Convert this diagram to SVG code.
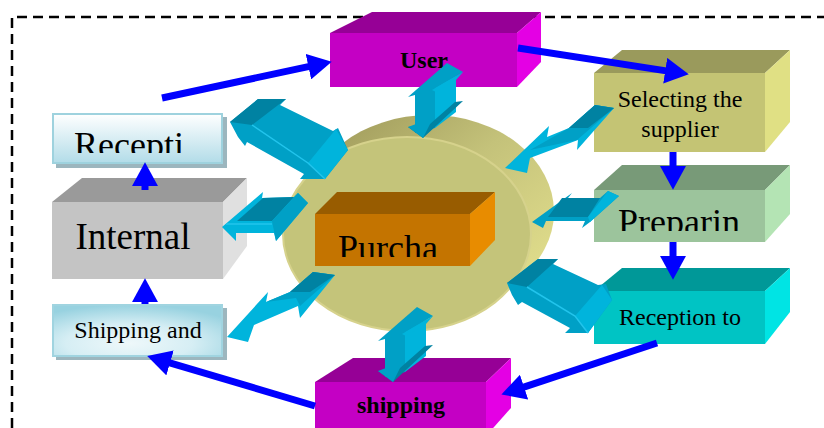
<svg xmlns="http://www.w3.org/2000/svg" width="824" height="428" viewBox="0 0 824 428">
  <defs>
    <style>
      .lbl { font-family: "Liberation Serif", "Times New Roman", serif; fill: #000; text-anchor: middle; }
      .sm { font-size: 24px; }
      .big { font-size: 36px; }
      .bold { font-weight: bold; }
      .flow { stroke: #0000FF; stroke-width: 7; fill: none; marker-end: url(#head); }
      .cy-main { fill: #00A0C6; }
      .cy-dark { fill: #0082A2; }
      .cy-light { fill: #00B4DC; }
      .cy-edge { stroke: #22C4EC; stroke-width: 1.5; fill: none; }
    </style>
    <marker id="head" markerUnits="userSpaceOnUse" markerWidth="24" markerHeight="26" viewBox="0 -12 22 24" refX="1" refY="0" orient="auto">
      <path d="M0,-12 L22,0 L0,12 z" fill="#0000FF"/>
    </marker>
    <linearGradient id="drum" x1="0" y1="0" x2="1" y2="1">
      <stop offset="0" stop-color="#9A9456"/>
      <stop offset="0.45" stop-color="#C4C27A"/>
      <stop offset="1" stop-color="#E8E490"/>
    </linearGradient>
    <linearGradient id="paleTop" x1="0" y1="0" x2="0" y2="1">
      <stop offset="0" stop-color="#FFFFFF"/>
      <stop offset="1" stop-color="#B2DCE8"/>
    </linearGradient>
    <radialGradient id="paleRad" cx="0.45" cy="0.75" r="0.75">
      <stop offset="0" stop-color="#EEF8FA"/>
      <stop offset="0.5" stop-color="#D6EEF4"/>
      <stop offset="1" stop-color="#98D2E0"/>
    </radialGradient>
    <clipPath id="clipRecepti"><rect x="52" y="113" width="172" height="40"/></clipPath>
    <clipPath id="clipPurcha"><rect x="315" y="214" width="156" height="43"/></clipPath>
    <clipPath id="clipPreparin"><rect x="594" y="190" width="172" height="41"/></clipPath>
    <!-- vertical double block arrow (used twice) -->
    <g id="vArrow">
      <polygon class="cy-main" points="415,94 435,86 435,128 415,133"/>
      <polygon class="cy-light" points="435,86 456,76 456,112 435,128"/>
      <polygon class="cy-main" points="408,97 447,63 463,72 432,90"/>
      <polygon class="cy-light" points="432,90 463,72 456,80 436,92"/>
      <polygon class="cy-dark" points="408,127 423,138 463,101 455,102 430,124"/>
      <polygon class="cy-main" points="408,127 416,124 430,124 423,138"/>
    </g>
  </defs>

  <!-- dashed frame -->
  <path d="M12,428 V17 H824" fill="none" stroke="#000" stroke-width="2.5" stroke-dasharray="10 6"/>

  <!-- central drum -->
  <g id="drumShape">
    <ellipse cx="430" cy="212" rx="124" ry="97" fill="url(#drum)"/>
    <polygon points="311,173 334,151 526,273 503,295" fill="#C4C27A"/>
    <ellipse cx="407" cy="234" rx="124" ry="97" fill="#C4C47A" stroke="#D6D28C" stroke-width="2"/>
  </g>

  <g id="purchasing">
    <polygon points="315,214 337,192 495,192 470,214" fill="#985C00"/>
    <polygon points="470,214 495,192 495,240 470,266" fill="#E88C00"/>
    <rect x="315" y="214" width="155" height="52" fill="#C47400"/>
    <text class="lbl big" x="388" y="260" clip-path="url(#clipPurcha)">Purcha</text>
  </g>

  <g id="user">
    <polygon points="330,33 372,12 541,12 517,33" fill="#960096"/>
    <polygon points="517,33 541,12 541,62 517,87" fill="#E400E4"/>
    <rect x="330" y="33" width="187" height="54" fill="#C400C4"/>
    <text class="lbl sm bold" x="424" y="68">User</text>
  </g>

  <g id="selecting">
    <polygon points="594,73 622,50 790,50 765,73" fill="#9A9A5C"/>
    <polygon points="765,73 790,50 790,122 765,152" fill="#E0E084"/>
    <rect x="594" y="73" width="171" height="79" fill="#C4C474"/>
    <text class="lbl sm" x="680" y="107">Selecting the</text>
    <text class="lbl sm" x="680" y="137">supplier</text>
  </g>

  <g id="preparing">
    <polygon points="594,190 622,165 790,165 765,190" fill="#789A78"/>
    <polygon points="765,190 790,165 790,214 765,242" fill="#B4E4B4"/>
    <rect x="594" y="190" width="171" height="52" fill="#9CC49C"/>
    <text class="lbl big" x="679" y="234" clip-path="url(#clipPreparin)">Preparin</text>
  </g>

  <g id="reception">
    <polygon points="594,291 622,268 790,268 765,291" fill="#009898"/>
    <polygon points="765,291 790,268 790,312 765,344" fill="#00E4E4"/>
    <rect x="594" y="291" width="171" height="53" fill="#00C4C4"/>
    <text class="lbl sm" x="680" y="325">Reception to</text>
  </g>

  <g id="shipping">
    <polygon points="315,382 353,358 511,358 486,382" fill="#960096"/>
    <polygon points="486,382 511,358 511,408 486,436" fill="#E400E4"/>
    <rect x="315" y="382" width="171" height="50" fill="#C400C4"/>
    <text class="lbl sm bold" x="401" y="413">shipping</text>
  </g>

  <g id="internal">
    <polygon points="52,202 82,178 247,178 223,202" fill="#9A9A9A"/>
    <polygon points="223,202 247,178 247,246 223,279" fill="#E0E0E0"/>
    <rect x="52" y="202" width="171" height="77" fill="#C4C4C4"/>
    <text class="lbl" x="133" y="249" font-size="37">Internal</text>
  </g>

  <g id="receptionInternal">
    <rect x="56" y="117" width="171" height="51" fill="#9CB6BE"/>
    <rect x="53" y="114" width="169" height="49" fill="url(#paleTop)" stroke="#9ED2DE" stroke-width="2"/>
    <text class="lbl big" x="129" y="157" clip-path="url(#clipRecepti)">Recepti</text>
  </g>

  <g id="shippingAnd">
    <rect x="56" y="308" width="171" height="52" fill="#9CB6BE"/>
    <rect x="53" y="305" width="169" height="51" fill="url(#paleRad)" stroke="#A0D4E0" stroke-width="2"/>
    <text class="lbl sm" x="138" y="338">Shipping and</text>
  </g>

  <!-- process flow connectors -->
  <g id="flows">
    <line class="flow" x1="162" y1="98" x2="309.5" y2="66.4"/>
    <line class="flow" x1="518" y1="48" x2="666.3" y2="70.9"/>
    <line class="flow" x1="673" y1="152" x2="673" y2="167" stroke-width="11"/>
    <line class="flow" x1="673" y1="242" x2="673" y2="257" stroke-width="11"/>
    <line class="flow" x1="657" y1="343" x2="523" y2="387.4"/>
    <line class="flow" x1="315" y1="406" x2="169" y2="362.6"/>
    <line class="flow" x1="145" y1="304" x2="145" y2="301"/>
    <line class="flow" x1="145" y1="190" x2="145" y2="185"/>
  </g>

  <!-- two-way links to the purchasing hub -->
  <g id="links">
    <!-- reception (internal) -->
    <polygon class="cy-main" points="230,122 258,99 286,99 280,105 333,131 338,128 348,150 325,179 300,179 304,174 247,142 245,146 238,137"/>
    <polygon class="cy-dark" points="230,122 258,99 286,99 252,125"/>
    <polygon class="cy-light" points="308,163 336,129 348,150 325,179"/>
    <polyline class="cy-edge" points="252,125 308,163 325,179"/>

    <!-- internal -->
    <polygon class="cy-light" points="222,227 263,192 262,198 294,197 298,193 308,203 276,241 274,233 236,233 236,241"/>
    <polygon class="cy-dark" points="237,221 263,198 294,197 272,221"/>
    <polygon class="cy-main" points="272,221 298,193 308,203 276,241"/>
    <polyline class="cy-edge" points="226,224 272,224"/>

    <!-- shipping and -->
    <polygon class="cy-light" points="227,337 268,292 266,302 290,292 313,272 335,275 300,318 298,306 254,325 248,342"/>
    <polygon class="cy-main" points="266,302 290,292 313,272 335,275 300,306 296,298"/>
    <polygon class="cy-dark" points="290,292 313,272 335,275 310,292"/>

    <!-- selecting the supplier -->
    <polygon class="cy-light" points="505,168 549,126 547,137 569,128 595,105 614,108 577,150 578,140 530,158 527,173"/>
    <polygon class="cy-main" points="530,150 569,128 595,105 614,108 577,140"/>
    <polygon class="cy-dark" points="569,128 595,105 614,108 588,128"/>

    <!-- preparing -->
    <polygon class="cy-main" points="532,222 572,193 568,198 600,198 608,191 619,196 590,222 582,228 585,221 546,221 543,228"/>
    <polygon class="cy-dark" points="562,198 600,198 588,217 548,217"/>
    <polygon class="cy-light" points="588,217 608,191 619,196 590,222"/>

    <!-- reception to -->
    <polygon class="cy-main" points="507,283 538,259 558,259 553,264 598,285 606,284 612,300 588,333 565,333 570,328 522,302 518,305 512,295"/>
    <polygon class="cy-dark" points="507,283 538,259 558,259 527,287"/>
    <polygon class="cy-light" points="575,316 602,285 612,300 588,333"/>
    <polyline class="cy-edge" points="527,287 575,316 588,333"/>

    <!-- user -->
    <use href="#vArrow"/>
    <!-- shipping -->
    <use href="#vArrow" transform="translate(-30,244)"/>
  </g>
</svg>
